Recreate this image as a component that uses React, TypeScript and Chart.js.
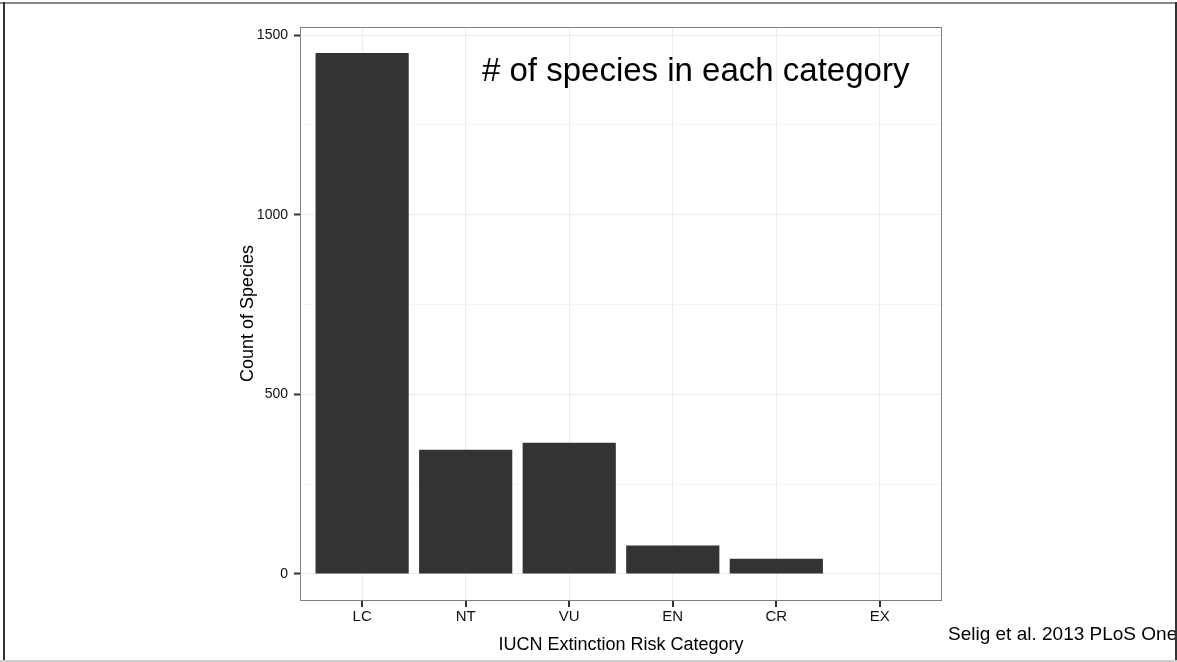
import React, { useEffect, useRef } from "react";
import { Chart, registerables } from "chart.js";

Chart.register(...registerables);

const categories = ["LC", "NT", "VU", "EN", "CR", "EX"];
const counts = [1450, 346, 365, 79, 42, 1];
const yMajorTicks = [0, 500, 1000, 1500];
const yMinorTicks = [250, 750, 1250];

const FONT = '"Liberation Sans", Arial, Helvetica, sans-serif';

const textPlugin = {
  id: "textPlugin",
  afterDraw(chart: any) {
    const ctx = chart.ctx;
    const a = chart.chartArea;
    ctx.save();
    ctx.setLineDash([]);
    // panel border
    ctx.strokeStyle = "#7f7f7f";
    ctx.lineWidth = 1;
    ctx.strokeRect(a.left + 0.5, a.top + 0.5, a.right - a.left - 1, a.bottom - a.top);
    // x tick marks
    ctx.fillStyle = "#333333";
    const xs = chart.scales["x"];
    for (let i = 0; i < categories.length; i++) {
      const px = Math.round(xs.getPixelForValue(i + 1));
      ctx.fillRect(px - 1, Math.round(a.bottom) + 1, 2, 6);
    }
    ctx.fillStyle = "#000";
    // annotation
    ctx.font = `33px ${FONT}`;
    ctx.textAlign = "left";
    ctx.textBaseline = "alphabetic";
    ctx.fillText("# of species in each category", a.left + 182, a.top + 54);
    // x title
    ctx.font = `18px ${FONT}`;
    ctx.textAlign = "center";
    ctx.fillText("IUCN Extinction Risk Category", (a.left + a.right) / 2, 650);
    // y title
    ctx.save();
    ctx.translate(253, (a.top + a.bottom) / 2);
    ctx.rotate(-Math.PI / 2);
    ctx.fillText("Count of Species", 0, 0);
    ctx.restore();
    // citation
    ctx.font = `19px ${FONT}`;
    ctx.textAlign = "left";
    ctx.fillText("Selig et al. 2013 PLoS One", 948, 640);
    ctx.restore();
  },
};

function App() {
  const ref = useRef<HTMLCanvasElement | null>(null);
  useEffect(() => {
    if (!ref.current) return;
    const chart = new Chart(ref.current, {
      type: "bar",
      data: {
        datasets: [
          {
            data: categories.map((c, i) => ({ x: i + 1, y: counts[i] })),
            backgroundColor: "#333333",
            borderWidth: 0,
            barPercentage: 0.9,
            categoryPercentage: 1,
          },
        ],
      },
      options: {
        animation: false,
        responsive: false,
        devicePixelRatio: 1,
        layout: { padding: { left: 0, top: 27, right: 235, bottom: 0 } },
        plugins: { legend: { display: false }, tooltip: { enabled: false } },
        scales: {
          x: {
            type: "linear",
            offset: false,
            min: 0.4,
            max: 6.6,
            afterBuildTicks: (s: any) => {
              s.ticks = categories.map((c, i) => ({ value: i + 1 }));
            },
            afterFit: (s: any) => {
              s.height = 62;
            },
            ticks: {
              callback: (v: any) => categories[Math.round(v) - 1] ?? "",
              font: { family: FONT, size: 15 },
              color: "#111",
              padding: 8,
              maxRotation: 0,
              autoSkip: false,
            },
            grid: { offset: false, drawTicks: false, color: "#ebebeb", lineWidth: 1 },
            border: { display: false },
          },
          y: {
            type: "linear",
            min: -72.5,
            max: 1522.5,
            afterBuildTicks: (s: any) => {
              s.ticks = [...yMajorTicks, ...yMinorTicks].sort((p, q) => p - q).map((v) => ({ value: v }));
            },
            afterFit: (s: any) => {
              s.width = 300;
            },
            ticks: {
              callback: (v: any) => (yMajorTicks.includes(v) ? String(v) : ""),
              font: { family: FONT, size: 14 },
              color: "#111",
              padding: 6,
              autoSkip: false,
            },
            grid: {
              color: (c: any) => (c.tick && yMajorTicks.includes(c.tick.value) ? "#ebebeb" : "#f5f5f5"),
              tickColor: (c: any) => (c.tick && yMajorTicks.includes(c.tick.value) ? "#333" : "rgba(0,0,0,0)"),
              tickLength: 6,
              tickWidth: 2,
              lineWidth: 1,
            },
            border: { display: false },
          },
        },
      },
      plugins: [textPlugin],
    } as any);
    return () => chart.destroy();
  }, []);

  return (
    <div style={{ position: "absolute", left: 0, top: 0, width: 1177, height: 662, background: "#fff", overflow: "hidden" }}>
      <canvas ref={ref} width={1177} height={662} style={{ position: "absolute", left: 0, top: 0 }} />
      <div style={{ position: "absolute", left: 0, top: 2, width: 1177, height: 2, background: "#888" }} />
      <div style={{ position: "absolute", left: 3, top: 2, width: 2, height: 660, background: "#333" }} />
      <div style={{ position: "absolute", left: 1175, top: 2, width: 2, height: 660, background: "#333" }} />
      <div style={{ position: "absolute", left: 0, top: 660, width: 1177, height: 2, background: "#ccc" }} />
    </div>
  );
}

export default App;
